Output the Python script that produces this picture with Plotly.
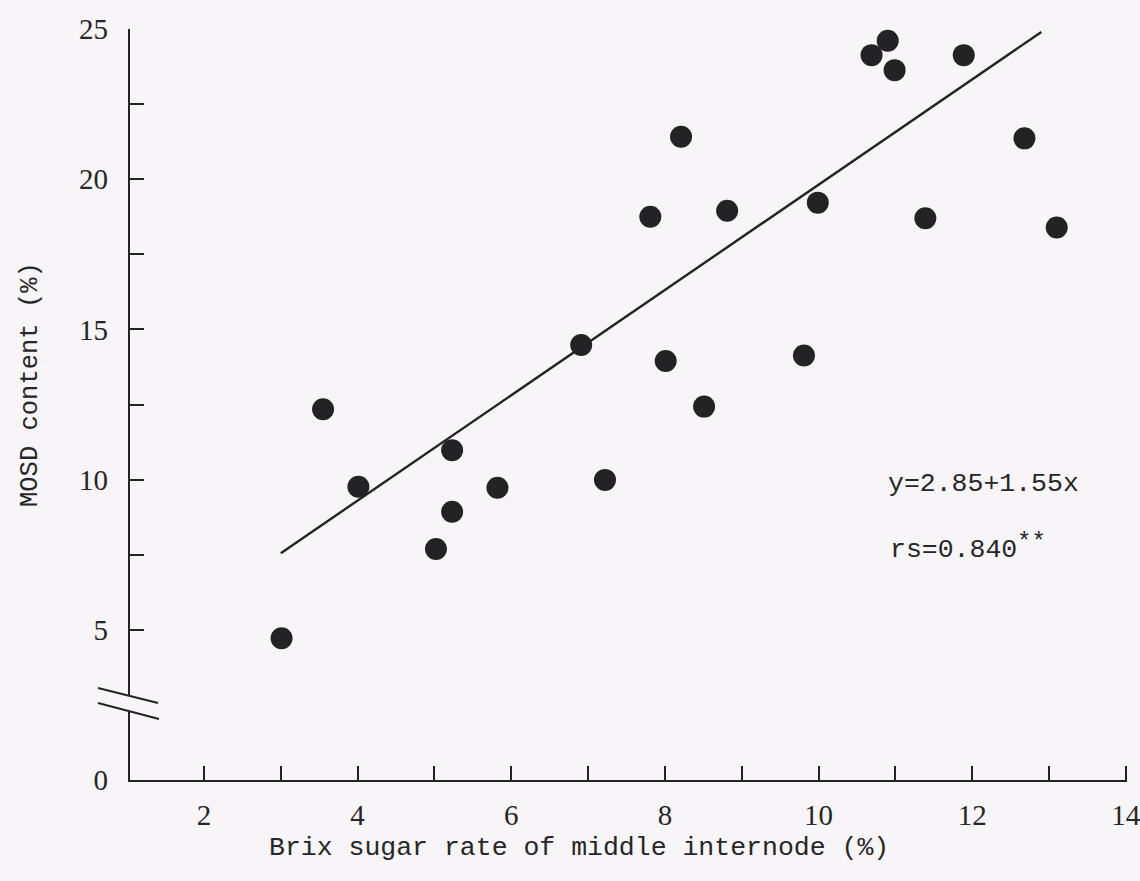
import plotly.graph_objects as go

# Data
brix = [3.01, 3.55, 4.01, 5.02, 5.23, 5.23, 5.82, 6.91, 7.22, 7.81, 8.01, 8.21,
        8.51, 8.81, 9.81, 9.99, 10.69, 10.90, 10.99, 11.39, 11.89, 12.68, 13.10]
mosd = [4.72, 12.34, 9.76, 7.69, 10.98, 8.93, 9.73, 14.48, 9.99, 18.75, 13.95, 21.41,
        12.43, 18.95, 14.13, 19.22, 24.13, 24.61, 23.63, 18.70, 24.13, 21.36, 18.39]

fit_x = [3.0, 12.9]
fit_y = [7.55, 24.9]

x_major = [2, 4, 6, 8, 10, 12, 14]
x_minor = [3, 5, 7, 9, 11, 13]
y_major = [0, 5, 10, 15, 20, 25]
y_minor = [7.5, 12.5, 17.5, 22.5]

BG = "#f7f5f7"
INK = "#232326"
TXT = "#262626"
W, H = 1140, 881
L, R, T, B = 130, 13, 29, 101
PW, PH = W - L - R, H - T - B


def px(xp):
    return (xp - L) / PW


def py(yp):
    return (H - B - yp) / PH


fig = go.Figure()
fig.add_trace(go.Scatter(x=fit_x, y=fit_y, mode="lines",
                         line=dict(color=INK, width=2.4), hoverinfo="skip"))
fig.add_trace(go.Scatter(x=brix, y=mosd, mode="markers",
                         marker=dict(size=22, color=INK, line=dict(width=0))))

tickfont = dict(family="Liberation Serif", size=29, color=TXT)
fig.update_xaxes(range=[1.037, 14.015], tickmode="array", tickvals=x_major,
                 ticktext=[str(v) for v in x_major], ticklabeloverflow="allow",
                 automargin=False,
                 ticks="inside", ticklen=14, tickwidth=2.2, tickcolor=INK,
                 minor=dict(tickmode="array", tickvals=x_minor, ticks="inside",
                            ticklen=14, tickwidth=2.2, tickcolor=INK, showgrid=False),
                 showline=True, linewidth=2.4, linecolor=INK, showgrid=False,
                 zeroline=False, tickfont=tickfont, ticklabelstandoff=8)
fig.update_yaxes(range=[0, 25], tickmode="array", tickvals=y_major,
                 ticktext=[str(v) for v in y_major], automargin=False,
                 ticks="inside", ticklen=14, tickwidth=2.2, tickcolor=INK,
                 minor=dict(tickmode="array", tickvals=y_minor, ticks="inside",
                            ticklen=14, tickwidth=2.2, tickcolor=INK, showgrid=False),
                 showline=True, linewidth=2.4, linecolor=INK, showgrid=False,
                 zeroline=False, tickfont=tickfont, ticklabelstandoff=14)

monofont = dict(family="Liberation Mono", size=26.5, color=TXT)
ann = [
    dict(text="Brix sugar rate of middle internode (%)", x=px(579), y=py(848),
         xref="paper", yref="paper", showarrow=False, font=monofont,
         xanchor="center", yanchor="middle"),
    dict(text="MOSD content (%)", x=px(30), y=py(385), xref="paper", yref="paper",
         showarrow=False, font=dict(family="Liberation Mono", size=25.5, color=TXT),
         textangle=-90, xanchor="center", yanchor="middle"),
    dict(text="y=2.85+1.55x", x=px(886), y=py(484), xref="paper", yref="paper",
         showarrow=False, font=monofont, xanchor="left", yanchor="middle"),
    dict(text="rs=0.840", x=px(888), y=py(550), xref="paper", yref="paper",
         showarrow=False, font=monofont, xanchor="left", yanchor="middle"),
    dict(text="**", x=px(1015), y=py(542), xref="paper", yref="paper",
         showarrow=False, font=dict(family="Liberation Mono", size=24, color=TXT),
         xanchor="left", yanchor="middle"),
]

shapes = [
    # gap in y axis for the break
    dict(type="rect", xref="paper", yref="paper", x0=px(125), x1=px(135),
         y0=py(712), y1=py(695), fillcolor=BG, line=dict(width=0), layer="above"),
    dict(type="line", xref="paper", yref="paper", x0=px(98), y0=py(688),
         x1=px(158), y1=py(703), line=dict(color=INK, width=2.2)),
    dict(type="line", xref="paper", yref="paper", x0=px(98), y0=py(703),
         x1=px(159), y1=py(719), line=dict(color=INK, width=2.2)),
]

fig.update_layout(width=W, height=H, autosize=False,
                  margin=dict(l=L, r=R, t=T, b=B, autoexpand=False),
                  paper_bgcolor=BG, plot_bgcolor=BG, showlegend=False,
                  annotations=ann, shapes=shapes)

fig.write_html("out.html")
